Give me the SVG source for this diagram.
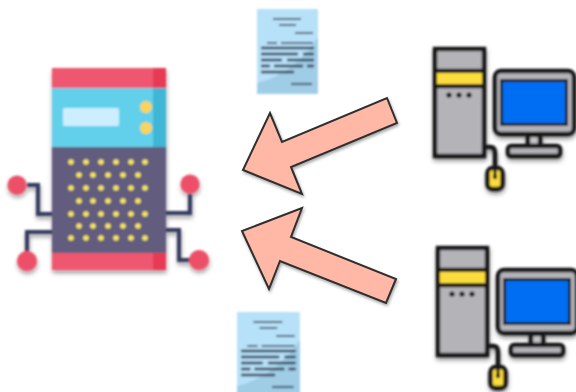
<svg xmlns="http://www.w3.org/2000/svg" xmlns:xlink="http://www.w3.org/1999/xlink" width="576" height="392" viewBox="0 0 576 392">
<style>
.dot{fill:#f6e65a}
.wire{fill:none;stroke:#343b5e;stroke-width:4}
.pin{fill:#ee5068}
.arrow{fill:#ffb8a5;stroke:#2e2e2e;stroke-width:2;stroke-linejoin:miter}
.ln{stroke:#4f5c74;stroke-width:2.200;fill:none}
.dk{stroke:#2b3550;stroke-width:2.400;fill:none}
.k{stroke:#161616;stroke-width:4.400}
</style>
<defs>
<filter id="icon" x="-15%" y="-15%" width="130%" height="135%">
<feGaussianBlur stdDeviation="0.8" result="b"/>
<feDropShadow in="b" dx="0.5" dy="3" stdDeviation="2" flood-color="#000" flood-opacity="0.4"/>
</filter>
<filter id="doc" x="-10%" y="-10%" width="120%" height="120%"><feGaussianBlur stdDeviation="0.9"/></filter>
<filter id="ar" x="-15%" y="-15%" width="130%" height="130%">
<feGaussianBlur stdDeviation="0.45" result="b"/>
<feDropShadow in="b" dx="1" dy="2" stdDeviation="1.5" flood-color="#000" flood-opacity="0.35"/>
</filter>
<g id="pc">
<rect x="435" y="49" width="49" height="107" fill="#b3b3b8" class="k"/>
<path d="M436 71H483M436 86H483" class="k" fill="none"/>
<rect x="437" y="73" width="45" height="11" fill="#fbdc3c"/>
<circle cx="449" cy="95" r="2.600" fill="#161616"/><circle cx="459" cy="95" r="2.600" fill="#161616"/><circle cx="469" cy="95" r="2.600" fill="#161616"/>
<rect x="495" y="71" width="79" height="63" rx="6" fill="#b3b3b8" class="k"/>
<rect x="501.500" y="80.500" width="65" height="44" fill="#056ef2" stroke="#161616" stroke-width="3"/>
<rect x="528" y="135" width="12" height="11" fill="#c4c4c8" class="k"/>
<rect x="508" y="146" width="52" height="10" rx="3" fill="#b3b3b8" class="k"/>
<path d="M485 147H490Q495 147 495 153V168" fill="none" class="k"/>
<rect x="487.500" y="168" width="15" height="21" rx="5" fill="#fbdc3c" class="k"/>
<path d="M495 169V176" stroke="#161616" stroke-width="3"/>
<circle cx="495" cy="177" r="2.200" fill="#161616"/>
</g>
<g id="paper">
<rect x="0" y="0" width="61" height="85" fill="#b7e1f8"/>
<path d="M0 74C25 68 48 50 61 28V85H0Z" fill="#9fcde6"/>
<path class="ln" d="M16 10H44M22 16H39M38 24H56M10 34H20M24 34H56"/>
<path class="dk" d="M4 39H57M4 45H41M46 45H57M4 51H25M30 51H57M4 57H13M17 57H46M50 57H57M4 63H37"/>
<path class="ln" d="M34 75H55"/>
</g>
</defs>

<g id="server" filter="url(#icon)">
<path class="wire" d="M27 185H38V214H52M27 252V232H52M190 194V213H166M190 260H179V230H166"/>
<rect x="52" y="68" width="114" height="202" rx="1.500" fill="#625c7e"/>
<rect x="52" y="68" width="114" height="20" fill="#ef5670"/>
<rect x="153" y="68" width="13" height="20" fill="#e73a55"/>
<rect x="52" y="88" width="114" height="59" fill="#62d0ea"/>
<rect x="153" y="88" width="13" height="59" fill="#3fb6d6"/>
<rect x="52" y="253" width="114" height="17" fill="#ef5670"/>
<rect x="153" y="253" width="13" height="17" fill="#e73a55"/>
<rect x="63" y="108" width="56" height="18" rx="1.500" fill="#cdeefc"/>
<circle cx="146" cy="107" r="6" fill="#fbd35a"/><circle cx="146" cy="128" r="6" fill="#fbd35a"/>
<g class="dot">
<circle cx="71" cy="162" r="2.800"/><circle cx="86" cy="162" r="2.800"/><circle cx="101" cy="162" r="2.800"/><circle cx="116" cy="162" r="2.800"/><circle cx="131" cy="162" r="2.800"/><circle cx="145" cy="162" r="2.800"/>
<circle cx="79" cy="175" r="2.800"/><circle cx="93" cy="175" r="2.800"/><circle cx="108" cy="175" r="2.800"/><circle cx="123" cy="175" r="2.800"/><circle cx="138" cy="175" r="2.800"/>
<circle cx="71" cy="188" r="2.800"/><circle cx="86" cy="188" r="2.800"/><circle cx="101" cy="188" r="2.800"/><circle cx="116" cy="188" r="2.800"/><circle cx="131" cy="188" r="2.800"/><circle cx="145" cy="188" r="2.800"/>
<circle cx="79" cy="201" r="2.800"/><circle cx="93" cy="201" r="2.800"/><circle cx="108" cy="201" r="2.800"/><circle cx="123" cy="201" r="2.800"/><circle cx="138" cy="201" r="2.800"/>
<circle cx="71" cy="214" r="2.800"/><circle cx="86" cy="214" r="2.800"/><circle cx="101" cy="214" r="2.800"/><circle cx="116" cy="214" r="2.800"/><circle cx="131" cy="214" r="2.800"/><circle cx="145" cy="214" r="2.800"/>
<circle cx="79" cy="226" r="2.800"/><circle cx="93" cy="226" r="2.800"/><circle cx="108" cy="226" r="2.800"/><circle cx="123" cy="226" r="2.800"/><circle cx="138" cy="226" r="2.800"/>
<circle cx="71" cy="238" r="2.800"/><circle cx="86" cy="238" r="2.800"/><circle cx="101" cy="238" r="2.800"/><circle cx="116" cy="238" r="2.800"/><circle cx="131" cy="238" r="2.800"/><circle cx="145" cy="238" r="2.800"/>
</g>
<circle class="pin" cx="17" cy="185" r="9.500"/><circle class="pin" cx="27" cy="261" r="10"/><circle class="pin" cx="190" cy="184" r="9.500"/><circle class="pin" cx="199" cy="260" r="10"/>
</g>

<g id="doc-top" filter="url(#doc)"><use href="#paper" transform="translate(257,9)"/></g>
<g id="doc-bottom" filter="url(#doc)"><use href="#paper" transform="translate(237,312) scale(1.03,1)"/></g>

<g id="pc-top" filter="url(#icon)"><use href="#pc"/></g>
<g id="pc-bottom" filter="url(#icon)"><use href="#pc" transform="translate(3,199)"/></g>

<g id="connectors" filter="url(#ar)">
<polygon class="arrow" points="387,98 397,123 291,167 302,194 243,170 270,113 282,142"/>
<polygon class="arrow" points="396,279 386,303 280,261 269,289 242,231 302,208 291,237"/>
</g>
</svg>
